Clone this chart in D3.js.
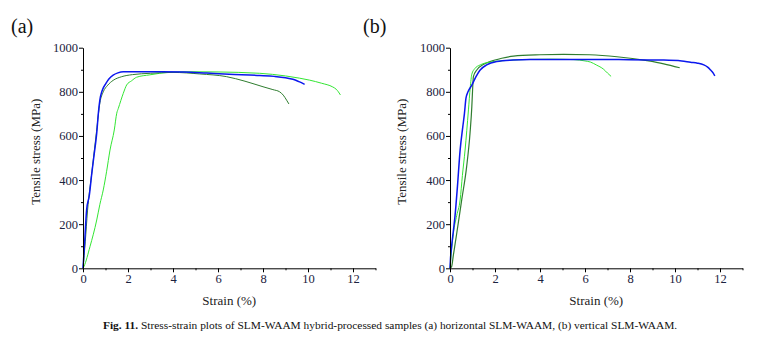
<!DOCTYPE html>
<html>
<head>
<meta charset="utf-8">
<script src="https://cdn.jsdelivr.net/npm/d3@7"></script>
<style>
  html, body { margin: 0; padding: 0; background: #fff; }
  svg { display: block; }
</style>
</head>
<body>
<div id="chart"></div>
<script>
  // оси
  let strainTicks = [0, 2, 4, 6, 8, 10, 12];
  let stressTicks = [0, 200, 400, 600, 800, 1000];

  // (a) horizontal SLM-WAAM: [strain %, stress MPa]
  let aLight = [[0,0],[0.05,10],[0.31,98],[0.61,219],[0.75,290],[0.9,355],[1.05,440],[1.2,536],
    [1.39,627],[1.5,703],[1.57,725],[1.79,793],[1.94,831],[2.16,850],[2.38,866],[2.97,877],
    [3.41,884],[4.0,889],[4.89,891],[6.0,890],[7.85,884],[9.0,872],[9.62,862],[10.07,853],
    [10.6,839],[11.1,822],[11.25,812],[11.35,800],[11.44,786]];
  let aDark = [[0,0],[0.1,120],[0.2,260],[0.4,440],[0.6,620],[0.75,750],[0.9,800],[1.1,830],
    [1.34,852],[1.7,868],[2.2,878],[3.0,884],[4.0,888],[5.19,881],[6.37,869],[7.2,848],
    [8.0,823],[8.44,810],[8.74,800],[8.9,785],[9.05,762],[9.15,745]];
  let aBlue = [[0,0],[0.08,130],[0.16,264],[0.28,330],[0.39,430],[0.5,520],[0.61,612],[0.68,700],
    [0.75,763],[0.85,805],[1.02,838],[1.15,858],[1.34,876],[1.55,886],[1.79,891],[2.5,891],
    [3.5,891],[4.5,890],[5.5,885],[6.5,880],[7.85,874],[8.5,870],[9.0,864],[9.33,857],
    [9.6,846],[9.85,834]];

  // (b) vertical SLM-WAAM
  let bDark = [[0,0],[0.07,7],[0.15,60],[0.3,159],[0.52,310],[0.74,461],[0.89,612],[0.97,733],
    [1.0,800],[1.04,869],[1.2,900],[1.5,925],[1.78,937],[2.3,952],[2.82,962],[4.0,968],
    [5.05,970],[6.2,968],[7.42,959],[8.76,941],[9.5,927],[10.21,909]];
  let bLight = [[0,0],[0.05,60],[0.15,159],[0.3,240],[0.45,310],[0.55,420],[0.67,536],[0.82,718],
    [0.9,820],[0.97,880],[1.1,905],[1.34,922],[1.8,935],[2.5,942],[3.56,947],[4.5,948],
    [5.5,946],[6.0,940],[6.24,935],[6.5,922],[6.83,902],[7.0,885],[7.16,870]];
  let bBlue = [[0,0],[0.02,40],[0.07,98],[0.15,170],[0.22,234],[0.33,370],[0.45,536],[0.57,642],
    [0.64,700],[0.71,771],[0.8,800],[0.97,830],[1.15,868],[1.34,899],[1.63,922],[2.08,937],
    [2.8,944],[3.56,947],[5.64,947],[7.5,946],[9.5,944],[10.3,940],[10.69,934],[11.0,930],
    [11.28,922],[11.45,912],[11.58,899],[11.7,885],[11.77,872]];

  let colors = { blue: "#0b17ee", light: "#33e633", dark: "#2f7d2f" };
  let serif = "Liberation Serif";

  let W = 769, H = 345;
  let svg = d3.select('#chart').append('svg').attr('width', W).attr('height', H)
              .style('font-family', serif);
  svg.append('rect').attr('width', W).attr('height', H).attr('fill', '#fff');

  let plotTop = 47.7, h = 220.6, w = 292.5;

  function panel(left, label, labelX, series) {
    let x = d3.scaleLinear().domain([0, 13]).range([0, w]);
    let y = d3.scaleLinear().domain([0, 1000]).range([h, 0]);
    let g = svg.append('g').attr('transform', `translate(${left},${plotTop})`);

    // линии
    let line = d3.line().x(d => x(d[0])).y(d => y(d[1])).curve(d3.curveMonotoneX);
    series.forEach(s => {
      g.append('path').attr('d', line(s.data)).attr('fill', 'none')
       .attr('stroke', colors[s.c]).attr('stroke-width', s.sw).attr('stroke-linejoin', 'round');
    });

    // малые деления
    g.append('g').attr('transform', `translate(0,${h})`)
     .call(d3.axisBottom(x).tickValues([1,3,5,7,9,11,13]).tickSize(2).tickFormat('').tickSizeOuter(0))
     .call(a => a.select('.domain').remove());
    g.append('g')
     .call(d3.axisLeft(y).tickValues([100,300,500,700,900]).tickSize(2).tickFormat('').tickSizeOuter(0))
     .call(a => a.select('.domain').remove());

    let xa = g.append('g').attr('transform', `translate(0,${h})`)
      .call(d3.axisBottom(x).tickValues(strainTicks).tickSize(4).tickPadding(2).tickSizeOuter(0));
    let ya = g.append('g')
      .call(d3.axisLeft(y).tickValues(stressTicks).tickFormat(d3.format('d'))
              .tickSize(4).tickPadding(1).tickSizeOuter(0));
    [xa, ya].forEach(a => {
      a.attr('font-family', serif);
      a.selectAll('text').style('font-family', serif)
       .attr('font-size', 12.5).attr('fill', '#1c2240');
      a.selectAll('line, path').attr('stroke', '#000');
    });

    g.append('text').attr('x', x(6.5)).attr('y', h + 37).attr('text-anchor', 'middle')
     .style('font-family', serif).attr('font-size', 13).attr('fill', '#222').text('Strain (%)');
    g.append('text').attr('transform', `translate(${labelX},${104}) rotate(-90)`)
     .style('font-family', serif).attr('text-anchor', 'middle').attr('font-size', 13).attr('fill', '#222')
     .text('Tensile stress (MPa)');

    svg.append('text').attr('x', label.x).attr('y', 33).attr('font-size', 20)
       .style('font-family', serif).attr('fill', '#111').text(label.t);
  }

  panel(83, { t: '(a)', x: 11 }, -43.5, [
    { data: aLight, c: 'light', sw: 1 },
    { data: aDark, c: 'dark', sw: 1 },
    { data: aBlue, c: 'blue', sw: 1.5 }
  ]);
  panel(450, { t: '(b)', x: 363 }, -44, [
    { data: bDark, c: 'dark', sw: 1.2 },
    { data: bLight, c: 'light', sw: 1 },
    { data: bBlue, c: 'blue', sw: 1.5 }
  ]);

  // подпись
  let cap = svg.append('text').attr('x', 103).attr('y', 329).attr('font-size', 11.4)
               .style('font-family', serif).attr('fill', '#111');
  cap.append('tspan').attr('font-weight', 'bold').text('Fig. 11.');
  cap.append('tspan').text(' Stress-strain plots of SLM-WAAM hybrid-processed samples (a) horizontal SLM-WAAM, (b) vertical SLM-WAAM.');
</script>
</body>
</html>
